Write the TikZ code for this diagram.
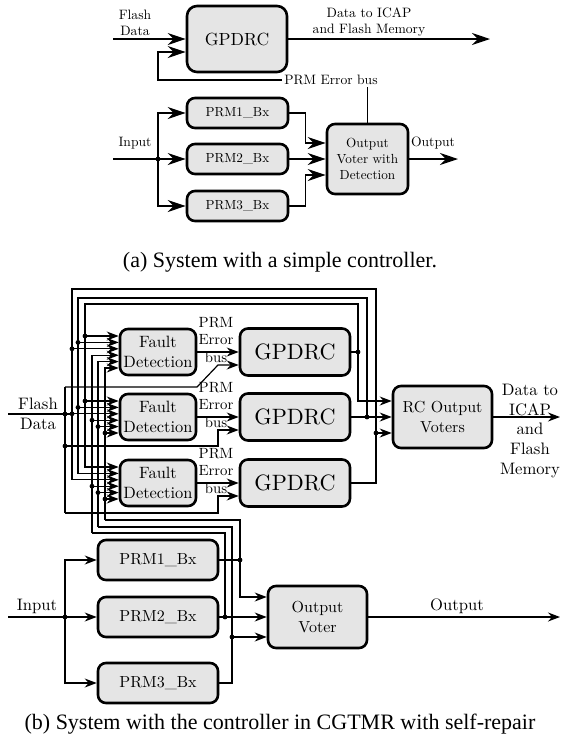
\documentclass[tikz,border=0pt]{standalone}
\usepackage{fontspec}
\newfontfamily\captfont{Liberation Serif}
\newfontfamily\diafont{lmroman10-regular.otf}
\usetikzlibrary{arrows.meta}

\tikzset{
  wire/.style={draw=drawColor,line width=0.6pt},
  arrA/.style={wire,-{Stealth[length=9pt,width=6pt,inset=3pt]}},
  arrB/.style={wire,-{Stealth[length=6pt,width=4.5pt,inset=2pt]}},
  block/.style={draw=drawColor,fill=fillColor,line width=1.3pt,rounded corners=4pt,inner sep=0pt,align=center},
  gpA/.style={block,rounded corners=5pt,minimum width=50pt,minimum height=33pt,font=\diafont\fontsize{8.8}{11}\selectfont},
  prmA/.style={block,minimum width=50.5pt,minimum height=15pt,font=\diafont\fontsize{6.6}{8}\selectfont},
  votA/.style={block,minimum width=40.5pt,minimum height=35pt,font=\diafont\fontsize{6.6}{8}\selectfont},
  fdB/.style={block,minimum width=38pt,minimum height=23pt,font=\diafont\fontsize{8.2}{10}\selectfont},
  gpB/.style={block,minimum width=55pt,minimum height=23.5pt,font=\diafont\fontsize{11.1}{13}\selectfont},
  rcB/.style={block,minimum width=49.5pt,minimum height=31pt,font=\diafont\fontsize{8}{10}\selectfont},
  prmB/.style={block,minimum width=60pt,minimum height=20pt,font=\diafont\fontsize{8}{10}\selectfont},
  lblA/.style={inner sep=0pt,align=center,font=\diafont\fontsize{6.8}{8.2}\selectfont},
  lblB/.style={inner sep=0pt,align=center,font=\diafont\fontsize{8.3}{9.9}\selectfont},
  ebB/.style={inner sep=0pt,align=center,font=\diafont\fontsize{7.4}{8.6}\selectfont},
  capt/.style={inner sep=0pt,font=\captfont\fontsize{11}{13}\selectfont}
}

\begin{document}
\begin{tikzpicture}[x=0.5pt,y=-0.5pt]
\definecolor{fillColor}{RGB}{229,229,229}
\definecolor{drawColor}{RGB}{0,0,0}
\useasboundingbox (0,0) rectangle (561,735);

% (a) system with a simple controller
\node[gpA] (gA) at (237,39) {GPDRC};
\node[prmA] (pA1) at (237.5,113) {PRM1\_Bx};
\node[prmA] (pA2) at (237.5,159) {PRM2\_Bx};
\node[prmA] (pA3) at (237.5,206) {PRM3\_Bx};
\node[votA] (vA) at (367.5,159) {Output\\Voter with\\Detection};

\coordinate (flA) at (113,39);
\coordinate (outA) at (490,39);
\coordinate (inA) at (113,159);
\coordinate (jA) at (158,159);
\coordinate (voA) at (458,159);
\coordinate (busA) at (158,80);

\draw[arrA] (flA) -- (gA.west);
\draw[arrA] (gA.east) -- (outA);
\draw[arrA] (inA) -- (pA2.west);
\draw[arrA] (jA) |- (pA1.west);
\draw[arrA] (jA) |- (pA3.west);
\fill[drawColor] (jA) circle (1.2pt);
\draw[arrA] (pA1.east) -- ++(16,0) |- ([yshift=8pt]vA.west);
\draw[arrA] (pA2.east) -- (vA.west);
\draw[arrA] (pA3.east) -- ++(16,0) |- ([yshift=-8pt]vA.west);
\draw[arrA] (vA.east) -- (voA);
\draw[arrA] (vA.north) |- (busA) |- ([yshift=-6.5pt]gA.west);

\node[lblA] (flLbl) at (135,23) {Flash\\Data};
\node[lblA] (icapLbl) at (369,22) {Data to ICAP\\and Flash Memory};
\node[lblA] (inLbl) at (135,143) {Input};
\node[lblA] (voLbl) at (433,143) {Output};
\node[lblA,fill=white,inner sep=1pt] (busLbl) at (331,80) {PRM Error bus};
\node[capt] (capA) at (280,262) {(a) System with a simple controller.};

% (b) controller in CGTMR with self-repair
\node[fdB] (fd1) at (158,352) {Fault\\Detection};
\node[fdB] (fd2) at (158,417) {Fault\\Detection};
\node[fdB] (fd3) at (158,483) {Fault\\Detection};
\node[gpB] (g1) at (295,352) {GPDRC};
\node[gpB] (g2) at (295,417) {GPDRC};
\node[gpB] (g3) at (295,483) {GPDRC};
\node[rcB] (rc) at (442.5,417) {RC Output\\Voters};
\node[prmB] (p1) at (158,560) {PRM1\_Bx};
\node[prmB] (p2) at (158,617) {PRM2\_Bx};
\node[prmB] (p3) at (158,683) {PRM3\_Bx};
\node[rcB] (vB) at (317.5,617) {Output\\Voter};

\draw[arrB] (fd1.east) -- (g1.west);
\draw[arrB] (fd2.east) -- (g2.west);
\draw[arrB] (fd3.east) -- (g3.west);
\node[ebB] (eb1) at (216,340) {PRM\\Error\\bus};
\node[ebB] (eb2) at (216,405) {PRM\\Error\\bus};
\node[ebB] (eb3) at (216,471) {PRM\\Error\\bus};

% flash data bus
\coordinate (flB) at (8,414);
\coordinate (fbTop) at (65,387);
\coordinate (fbMid) at (65,446);
\coordinate (fbBot) at (65,513);
\draw[wire] (flB) -- (72,414);
\draw[wire] (fbTop) -- (fbBot);
\fill[drawColor] (65,414) circle (1.2pt);
\draw[arrB] (fbTop) -- (197,387) -- (218,365) -- ([yshift=-6.5pt]g1.west);
\draw[arrB] (fbMid) -- (218,446) |- ([yshift=-6.5pt]g2.west);
\draw[arrB] (fbBot) -- (218,513) |- ([yshift=-6.5pt]g3.west);
\fill[drawColor] (fbMid) circle (1.2pt);

% GPDRC feedback loops
\coordinate (l1) at (358,304);
\coordinate (l1L) at (85,304);
\coordinate (l2) at (367,298);
\coordinate (l2L) at (78,298);
\coordinate (l3) at (376,289);
\coordinate (l3L) at (72,289);

\draw[arrB] (g1.east) -| (l1) -- (l1L) |- ([yshift=8pt]fd3.west);
\draw[arrB] (g1.east -| l1) |- ([yshift=8pt]rc.west);
\fill[drawColor] (g1.east -| l1) circle (1.2pt);
\draw[arrB] ([yshift=8pt]fd1.west -| l1L) -- ([yshift=8pt]fd1.west);
\draw[arrB] ([yshift=8pt]fd2.west -| l1L) -- ([yshift=8pt]fd2.west);
\fill[drawColor] ([yshift=8pt]fd1.west -| l1L) circle (1.2pt);
\fill[drawColor] ([yshift=8pt]fd2.west -| l1L) circle (1.2pt);

\draw[arrB] (g2.east) -- (rc.west);
\draw[arrB] (g2.east -| l2) -- (l2) -- (l2L) |- ([yshift=4.8pt]fd3.west);
\fill[drawColor] (g2.east -| l2) circle (1.2pt);
\draw[arrB] ([yshift=4.8pt]fd1.west -| l2L) -- ([yshift=4.8pt]fd1.west);
\draw[arrB] ([yshift=4.8pt]fd2.west -| l2L) -- ([yshift=4.8pt]fd2.west);
\fill[drawColor] ([yshift=4.8pt]fd1.west -| l2L) circle (1.2pt);
\fill[drawColor] ([yshift=4.8pt]fd2.west -| l2L) circle (1.2pt);

\draw[arrB] (g3.east) -| (l3) -- (l3L) |- ([yshift=1.6pt]fd3.west);
\draw[arrB] ([yshift=-8pt]rc.west -| l3) -- ([yshift=-8pt]rc.west);
\fill[drawColor] ([yshift=-8pt]rc.west -| l3) circle (1.2pt);
\draw[arrB] ([yshift=1.6pt]fd1.west -| l3L) -- ([yshift=1.6pt]fd1.west);
\draw[arrB] ([yshift=1.6pt]fd2.west -| l3L) -- ([yshift=1.6pt]fd2.west);
\fill[drawColor] ([yshift=1.6pt]fd1.west -| l3L) circle (1.2pt);
\fill[drawColor] ([yshift=1.6pt]fd2.west -| l3L) circle (1.2pt);

\draw[arrB] (rc.east) -- (560,417);
\node[lblB] (icapB) at (530,431) {Data to\\ICAP\\and\\Flash\\Memory};

% PRM feedback loops
\coordinate (q1) at (240,520);
\coordinate (q1L) at (105,520);
\coordinate (q2) at (225,533);
\coordinate (q2L) at (92,533);
\coordinate (q3) at (232,527);
\coordinate (q3L) at (98,527);

\draw[wire] (p1.east) -- (p1.east -| q1);
\fill[drawColor] (p1.east -| q1) circle (1.2pt);
\draw[arrB] (q1L) -- (q1) |- ([yshift=10pt]vB.west);
\draw[arrB] (q1L) |- ([yshift=-8pt]fd1.west);
\draw[arrB] ([yshift=-8pt]fd2.west -| q1L) -- ([yshift=-8pt]fd2.west);
\draw[arrB] ([yshift=-8pt]fd3.west -| q1L) -- ([yshift=-8pt]fd3.west);
\fill[drawColor] ([yshift=-8pt]fd2.west -| q1L) circle (1.2pt);
\fill[drawColor] ([yshift=-8pt]fd3.west -| q1L) circle (1.2pt);

\draw[arrB] (p2.east) -- (vB.west);
\draw[wire] (p2.east -| q2) -- (q2) -- (q2L);
\fill[drawColor] (p2.east -| q2) circle (1.2pt);
\draw[arrB] (q2L) |- ([yshift=-1.6pt]fd1.west);
\draw[arrB] ([yshift=-1.6pt]fd2.west -| q2L) -- ([yshift=-1.6pt]fd2.west);
\draw[arrB] ([yshift=-1.6pt]fd3.west -| q2L) -- ([yshift=-1.6pt]fd3.west);
\fill[drawColor] ([yshift=-1.6pt]fd2.west -| q2L) circle (1.2pt);
\fill[drawColor] ([yshift=-1.6pt]fd3.west -| q2L) circle (1.2pt);

\draw[wire] (p3.east) -| (q3) -- (q3L);
\draw[arrB] ([yshift=-10pt]vB.west -| q3) -- ([yshift=-10pt]vB.west);
\fill[drawColor] ([yshift=-10pt]vB.west -| q3) circle (1.2pt);
\draw[arrB] (q3L) |- ([yshift=-4.8pt]fd1.west);
\draw[arrB] ([yshift=-4.8pt]fd2.west -| q3L) -- ([yshift=-4.8pt]fd2.west);
\draw[arrB] ([yshift=-4.8pt]fd3.west -| q3L) -- ([yshift=-4.8pt]fd3.west);
\fill[drawColor] ([yshift=-4.8pt]fd2.west -| q3L) circle (1.2pt);
\fill[drawColor] ([yshift=-4.8pt]fd3.west -| q3L) circle (1.2pt);

% PRM inputs and output
\coordinate (inB) at (8,617);
\coordinate (jB) at (65,617);
\draw[arrB] (inB) -- (p2.west);
\draw[arrB] (jB) |- (p1.west);
\draw[arrB] (jB) |- (p3.west);
\fill[drawColor] (jB) circle (1.2pt);
\draw[arrB] (vB.east) -- (560,617);

\node[lblB] (flLblB) at (38,414) {Flash\\Data};
\node[lblB] (inLblB) at (37,606) {Input};
\node[lblB] (outLblB) at (457,606) {Output};
\node[capt] (capB) at (280,724) {(b) System with the controller in CGTMR with self-repair};
\end{tikzpicture}
\end{document}
